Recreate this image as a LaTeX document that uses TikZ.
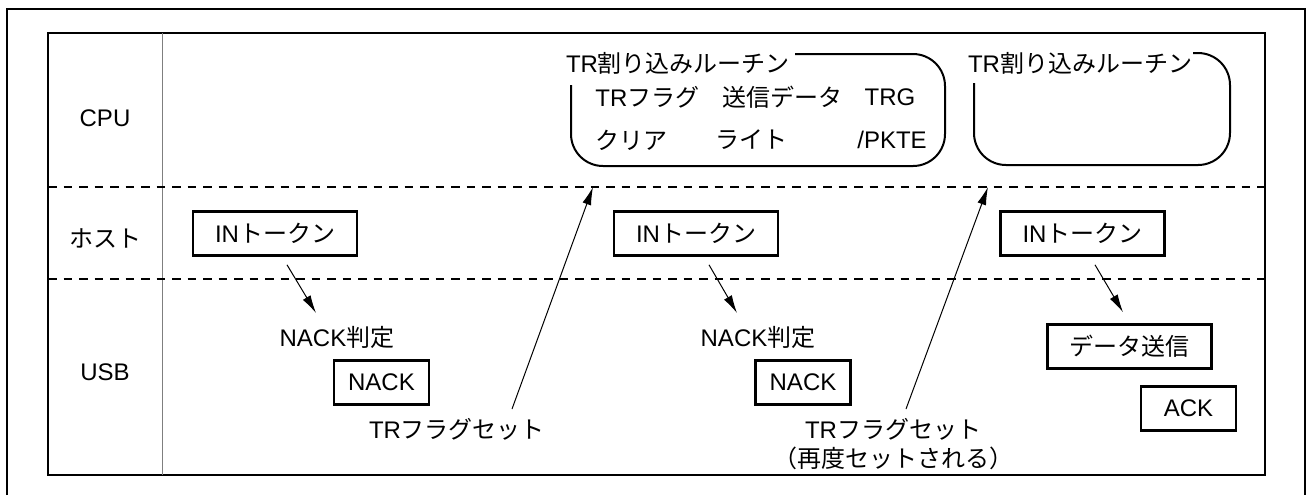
\documentclass[tikz,border=0pt]{standalone}
\usepackage{fontspec}
\setmainfont{Noto Sans CJK JP}
\newfontfamily\latinfont{Liberation Sans}
\usepackage{tikz}
\usetikzlibrary{arrows.meta,positioning}
\definecolor{LaneGray}{HTML}{7F7F7F}
\newcommand{\lt}[1]{{\latinfont #1}}

\begin{document}
\begin{tikzpicture}[
  x=0.5pt,y=-0.5pt,
  font=\fontsize{12}{14}\selectfont,
  box/.style={draw,line width=1.3pt,minimum width=82pt,minimum height=22pt,inner sep=0pt},
  smallbox/.style={box,minimum width=47.5pt},
  txt/.style={inner sep=0pt},
  outerline/.style={line width=1.3pt},
  lane/.style={dash pattern=on 4.25pt off 3.5pt,line width=1.1pt},
  arrow/.style={-{Latex[length=9pt,width=4.5pt]},line width=0.5pt},
  routine/.style={line width=1pt,rounded corners=16pt}
]
  \useasboundingbox (0,0) rectangle (1308,495);
  \draw[outerline] (7,495) -- (7,9) -- (1305,9) -- (1305,495);
  \draw[outerline] (48,33) rectangle (1265,475);
  \draw[LaneGray,line width=0.5pt] (162,33) -- (162,475);
  \draw[lane] (48,187) -- (1265,187);
  \draw[lane] (48,279) -- (1265,279);

  \node[txt] (cpu) at (105,118) {\lt{CPU}};
  \node[txt] (host) at (105,238) {ホスト};
  \node[txt] (usb) at (105,372) {\lt{USB}};

  \node[txt] (isr1) at (678,63) {\lt{TR}割り込みルーチン};
  \draw[routine] (571,85) -- (571,166) -- (945,166) -- (945,54) -- (795,54);
  \node[txt,anchor=west] (clr1) at (595,97) {\lt{TR}フラグ};
  \node[txt,anchor=west] (clr2) at (595,140) {クリア};
  \node[txt,anchor=west] (wr1) at (722,97) {送信データ};
  \node[txt,anchor=west] (wr2) at (715,140) {ライト};
  \node[txt] (trg1) at (890,97) {\lt{TRG}};
  \node[txt] (trg2) at (892,140) {\lt{/PKTE}};

  \node[txt] (isr2) at (1080,63) {\lt{TR}割り込みルーチン};
  \draw[routine] (974,83) -- (974,165) -- (1230,165) -- (1230,53) -- (1193,53);

  \node[box] (in1) at (275,233.5) {\lt{IN}トークン};
  \node[box] (in2) at (696,233.5) {\lt{IN}トークン};
  \node[box] (in3) at (1082.5,233.5) {\lt{IN}トークン};

  \node[txt] (judge1) at (337,337) {\lt{NACK}判定};
  \node[smallbox] (nack1) at (381.5,382.5) {\lt{NACK}};
  \node[txt] (judge2) at (758,337) {\lt{NACK}判定};
  \node[smallbox] (nack2) at (803,382.5) {\lt{NACK}};
  \node[box] (send) at (1129.5,346.5) {データ送信};
  \node[smallbox] (ack) at (1188.5,408.5) {\lt{ACK}};
  \node[txt] (set1) at (457,429) {\lt{TR}フラグセット};
  \node[txt] (set2) at (893,429) {\lt{TR}フラグセット};
  \node[txt] (again) at (893,458) {（再度セットされる）};

  \coordinate (cpu1) at (593,187);
  \coordinate (cpu2) at (988,187);

  \draw[arrow] ([shift={(12,8)}]in1.south) -- ([shift={(-21,-24)}]judge1.center);
  \draw[arrow] ([shift={(13,8)}]in2.south) -- ([shift={(-21,-24)}]judge2.center);
  \draw[arrow] ([shift={(12.5,8)}]in3.south) -- ([shift={(-6.5,-11)}]send.north);
  \draw[arrow] ([shift={(55,-20)}]set1.center) -- (cpu1);
  \draw[arrow] ([shift={(13,-20)}]set2.center) -- (cpu2);
\end{tikzpicture}
\end{document}
